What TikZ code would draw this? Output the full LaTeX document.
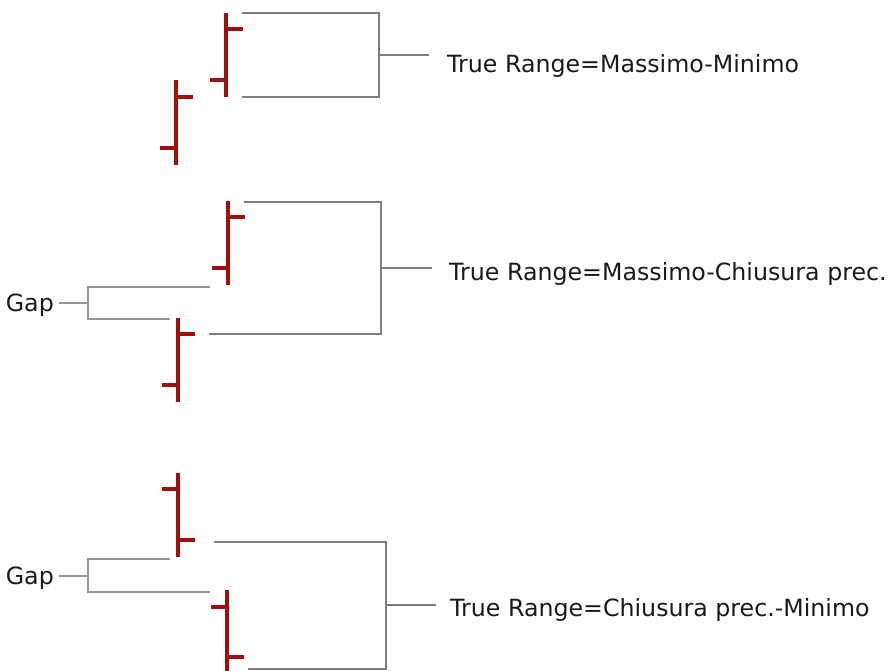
\documentclass[tikz,border=0pt]{standalone}
\usepackage{fontspec}
\setmainfont{DejaVu Sans}
\definecolor{barred}{HTML}{A30D0D}
\definecolor{brkgray}{HTML}{7E7E7E}
\definecolor{gapgray}{HTML}{959595}
\definecolor{txt}{HTML}{1A1A1A}
\tikzset{
  candle/.style={draw=barred, line width=4.4pt},
  rangebrk/.style={draw=brkgray, line width=2.8pt},
  gapbrk/.style={draw=gapgray, line width=1.7pt},
  lbl/.style={inner sep=0pt, text=txt, font=\fontsize{23.7}{27}\selectfont},
}
% one price bar: x, high, low, open (left tick), close (right tick)
\newcommand{\pricebar}[5]{%
  \draw[candle] (#1,#2) -- (#1,#3);
  \draw[candle] (#1-16,#4) -- (#1,#4);
  \draw[candle] (#1,#5) -- (#1+17,#5);
}
\begin{document}
\begin{tikzpicture}[x=1pt,y=-1pt]
\useasboundingbox (0,0) rectangle (888,670);

% ---------- case 1: high - low ----------
\pricebar{176}{80}{165}{148}{97}
\pricebar{226}{13}{97}{80}{29}
\coordinate (a1) at (242,13);
\coordinate (a2) at (242,97);
\coordinate (aj) at (379,55);
\coordinate (ae) at (429,55);
\node[lbl, anchor=base west] (la) at (447,72) {True Range=Massimo-Minimo};
\draw[rangebrk] (a1) -| (aj) |- (a2);
\draw[rangebrk] (aj) -- (ae);

% ---------- case 2: high - previous close ----------
\pricebar{178}{318}{402}{385}{334}
\pricebar{228}{201}{285}{268}{217}
\coordinate (b1) at (244,202);
\coordinate (b2) at (209,334);
\coordinate (bj) at (381,268);
\coordinate (be) at (432,268);
\node[lbl, anchor=base west] (lb) at (449,280) {True Range=Massimo-Chiusura prec.};
\draw[rangebrk] (b1) -| (bj) |- (b2);
\draw[rangebrk] (bj) -- (be);
% gap between the two bars
\coordinate (g1) at (210,287);
\coordinate (g2) at (170,319);
\coordinate (gj) at (88,303);
\node[lbl, anchor=base east] (gb) at (54,311) {Gap};
\draw[gapbrk] (g1) -| (gj) |- (g2);
\draw[gapbrk] (gj) -- ([xshift=5pt]gb.east |- gj);

% ---------- case 3: previous close - low ----------
\pricebar{178}{473}{557}{489}{540}
\pricebar{227}{590}{672}{607}{657}
\coordinate (c1) at (214,542);
\coordinate (c2) at (248,669);
\coordinate (cj) at (386,605);
\coordinate (ce) at (436,605);
\node[lbl, anchor=base west] (lc) at (450,616) {True Range=Chiusura prec.-Minimo};
\draw[rangebrk] (c1) -| (cj) |- (c2);
\draw[rangebrk] (cj) -- (ce);
% gap between the two bars
\coordinate (h1) at (170,559);
\coordinate (h2) at (210,592);
\coordinate (hj) at (88,576);
\node[lbl, anchor=base east] (gc) at (54,584) {Gap};
\draw[gapbrk] (h1) -| (hj) |- (h2);
\draw[gapbrk] (hj) -- ([xshift=5pt]gc.east |- hj);
\end{tikzpicture}
\end{document}
